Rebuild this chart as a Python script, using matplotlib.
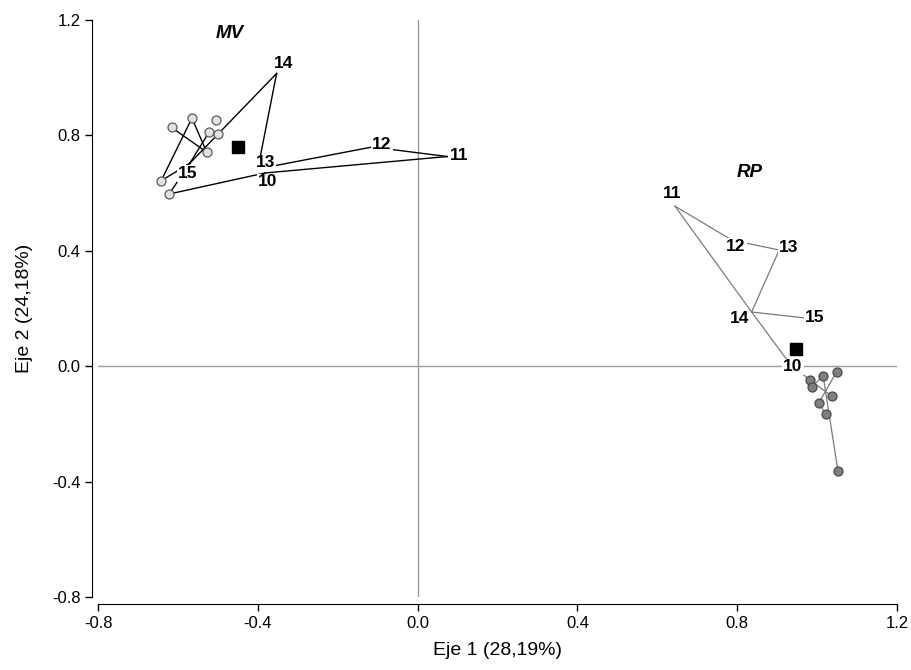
import numpy as np
import matplotlib
matplotlib.use("Agg")
import matplotlib.pyplot as plt

plt.rcParams['font.family'] = ['Liberation Sans', 'DejaVu Sans']

# numbered points (trajectory 10 -> 15)
labels = ['10', '11', '12', '13', '14', '15']
mv_x = [-0.382, 0.074, -0.114, -0.400, -0.353, -0.570]
mv_y = [0.670, 0.727, 0.760, 0.684, 1.015, 0.704]
rp_x = [0.932, 0.644, 0.787, 0.905, 0.836, 0.972]
rp_y = [0.008, 0.555, 0.437, 0.403, 0.188, 0.167]

# sample points
mv_cx = [-0.616, -0.565, -0.505, -0.522, -0.500, -0.528, -0.642, -0.622]
mv_cy = [0.828, 0.860, 0.854, 0.812, 0.805, 0.742, 0.643, 0.597]
rp_cx = [0.982, 1.015, 1.049, 0.986, 1.036, 1.004, 1.022, 1.052]
rp_cy = [-0.048, -0.034, -0.019, -0.072, -0.103, -0.128, -0.167, -0.362]

# centroids
cent_x = [-0.450, 0.947]
cent_y = [0.761, 0.059]

# group names
groups = ['MV', 'RP']
group_x = [-0.470, 0.832]
group_y = [1.155, 0.670]

# connections: ('n', i) numbered point, ('c', j) sample point
mv_edges = [(('n', 0), ('n', 1)), (('n', 1), ('n', 2)), (('n', 2), ('n', 3)),
            (('n', 3), ('n', 4)), (('n', 4), ('n', 5)),
            (('c', 0), ('c', 5)), (('c', 1), ('c', 5)), (('c', 1), ('c', 6)),
            (('c', 6), ('n', 5)), (('c', 7), ('n', 5)), (('c', 7), ('n', 0)),
            (('c', 3), ('n', 5))]
rp_edges = [(('n', 1), ('n', 4)), (('n', 4), ('n', 0)), (('n', 1), ('n', 2)),
            (('n', 2), ('n', 3)), (('n', 3), ('n', 4)), (('n', 4), ('n', 5)),
            (('n', 0), ('c', 0)), (('c', 0), ('c', 4)), (('c', 3), ('c', 1)),
            (('c', 2), ('c', 5)), (('c', 5), ('c', 6)), (('c', 1), ('c', 7))]

# label offsets in pixels (dx, dy up)
mv_off = [(3, -9), (12, 1), (10, 3), (8, 6), (7, 10), (-2, -10)]
rp_off = [(3, -3), (-3, 13), (4, -6), (9, 2), (-12, -7), (9, 1)]


def get_pt(node, nx, ny, cx, cy):
    kind, i = node
    if kind == 'n':
        return nx[i], ny[i]
    return cx[i], cy[i]


fig = plt.figure(figsize=(9.12, 6.70), dpi=100)
ax = fig.add_axes([0.1075, 0.109, 0.8761, 0.861])

ax.axhline(0, color='#9a9a9a', lw=1, zorder=1)
ax.axvline(0, color='#9a9a9a', lw=1, zorder=1)

for (edges, nx, ny, cx, cy, lc, lw) in [
        (mv_edges, mv_x, mv_y, mv_cx, mv_cy, 'black', 1.0),
        (rp_edges, rp_x, rp_y, rp_cx, rp_cy, '#7a7a7a', 0.9)]:
    for a, b in edges:
        xa, ya = get_pt(a, nx, ny, cx, cy)
        xb, yb = get_pt(b, nx, ny, cx, cy)
        ax.plot([xa, xb], [ya, yb], color=lc, lw=lw, zorder=2)

ax.scatter(mv_cx, mv_cy, s=42, facecolor='#e2e2e2', edgecolor='#5a5a5a', lw=0.9, zorder=4)
ax.scatter(rp_cx, rp_cy, s=42, facecolor='#7f7f7f', edgecolor='#4a4a4a', lw=0.9, zorder=4)
ax.scatter(cent_x, cent_y, s=75, marker='s', color='black', zorder=5)

for nx, ny, off in [(mv_x, mv_y, mv_off), (rp_x, rp_y, rp_off)]:
    for lab, x, y, o in zip(labels, nx, ny, off):
        ax.annotate(lab, (x, y), xytext=o, textcoords='offset pixels',
                    ha='center', va='center', fontsize=12.5, fontweight='bold',
                    bbox=dict(boxstyle='square,pad=0.05', fc='white', ec='none'),
                    zorder=3)

for g, x, y in zip(groups, group_x, group_y):
    ax.text(x, y, g, ha='center', va='center', fontsize=13.5,
            fontweight='bold', style='italic', zorder=6)

ax.set_xlim(-0.8, 1.2)
ax.set_ylim(-0.8, 1.2)
ax.set_xticks(np.arange(-0.8, 1.21, 0.4))
ax.set_yticks(np.arange(-0.8, 1.21, 0.4))
ax.xaxis.set_major_formatter(plt.FormatStrFormatter('%.1f'))
ax.yaxis.set_major_formatter(plt.FormatStrFormatter('%.1f'))
ax.spines['top'].set_visible(False)
ax.spines['right'].set_visible(False)
ax.spines['left'].set_position(('outward', 4))
ax.spines['bottom'].set_position(('outward', 5))
ax.tick_params(direction='out', length=5, width=1, labelsize=12, colors='black')
ax.set_xlabel('Eje 1 (28,19%)', fontsize=14, labelpad=8)
ax.set_ylabel('Eje 2 (24,18%)', fontsize=14, labelpad=14)

fig.savefig('out.png', dpi=100)
